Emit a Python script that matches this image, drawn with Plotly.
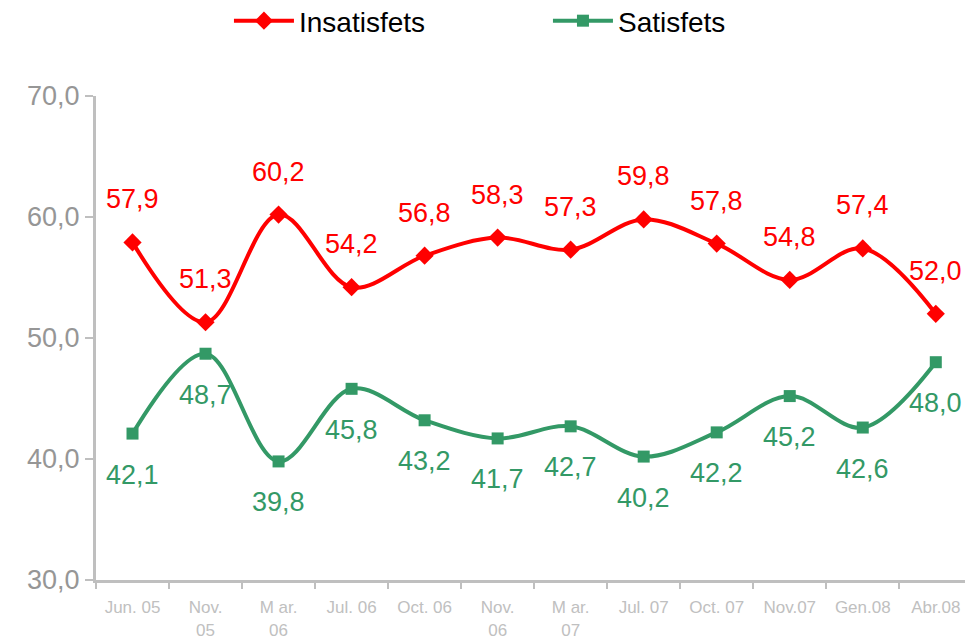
import plotly.graph_objects as go

# categories and series
months = ["Jun. 05", "Nov.<br>05", "M ar.<br>06", "Jul. 06", "Oct. 06", "Nov.<br>06",
          "M ar.<br>07", "Jul. 07", "Oct. 07", "Nov.07", "Gen.08", "Abr.08"]
insatisfets = [57.9, 51.3, 60.2, 54.2, 56.8, 58.3, 57.3, 59.8, 57.8, 54.8, 57.4, 52.0]
satisfets = [42.1, 48.7, 39.8, 45.8, 43.2, 41.7, 42.7, 40.2, 42.2, 45.2, 42.6, 48.0]

RED = "#ff0000"
GREEN = "#339966"

fig = go.Figure()
fig.add_trace(go.Scatter(
    x=months, y=insatisfets, name="Insatisfets", mode="lines+markers",
    line=dict(color=RED, width=4, shape="spline", smoothing=1.0),
    marker=dict(symbol="diamond", size=14, color=RED),
))
fig.add_trace(go.Scatter(
    x=months, y=satisfets, name="Satisfets", mode="lines+markers",
    line=dict(color=GREEN, width=4, shape="spline", smoothing=1.0),
    marker=dict(symbol="square", size=12, color=GREEN),
))

# data labels: red above the point, green below
annotations = []
for m, v in zip(months, insatisfets):
    annotations.append(dict(x=m, y=v, text=f"{v:.1f}".replace(".", ","), showarrow=False,
                            yshift=43, font=dict(color=RED, size=27)))
for m, v in zip(months, satisfets):
    annotations.append(dict(x=m, y=v, text=f"{v:.1f}".replace(".", ","), showarrow=False,
                            yshift=-41, font=dict(color=GREEN, size=27)))

fig.update_layout(
    width=965, height=643,
    margin=dict(l=96, r=0, t=96, b=63, autoexpand=False),
    paper_bgcolor="white", plot_bgcolor="white",
    font=dict(family="Liberation Sans, Arial, sans-serif"),
    annotations=annotations,
    legend=dict(orientation="h", x=0.153, xanchor="left", xref="paper",
                y=1.155, yanchor="middle", font=dict(size=28, color="black"),
                entrywidth=244, entrywidthmode="pixels", itemwidth=60),
    showlegend=True,
)
fig.update_xaxes(
    type="category", range=[-0.5, 11.4], tickson="boundaries",
    ticks="outside", ticklen=6, tickcolor="#bfbfbf", tickwidth=2,
    showline=True, linecolor="#bfbfbf", linewidth=3, showgrid=False, zeroline=False,
    tickfont=dict(size=17, color="#c0c0c0"), ticklabelstandoff=10,
)
fig.update_yaxes(
    range=[30, 70], tickvals=[30, 40, 50, 60, 70],
    ticktext=["30,0", "40,0", "50,0", "60,0", "70,0"],
    ticks="outside", ticklen=8, tickcolor="#bfbfbf", tickwidth=2,
    showline=True, linecolor="#bfbfbf", linewidth=3, showgrid=False, zeroline=False,
    tickfont=dict(size=27, color="#969696"),
)

fig.write_html("out.html", config={"displayModeBar": False},
               post_script="document.body.style.margin='0';document.body.style.overflow='hidden';")
